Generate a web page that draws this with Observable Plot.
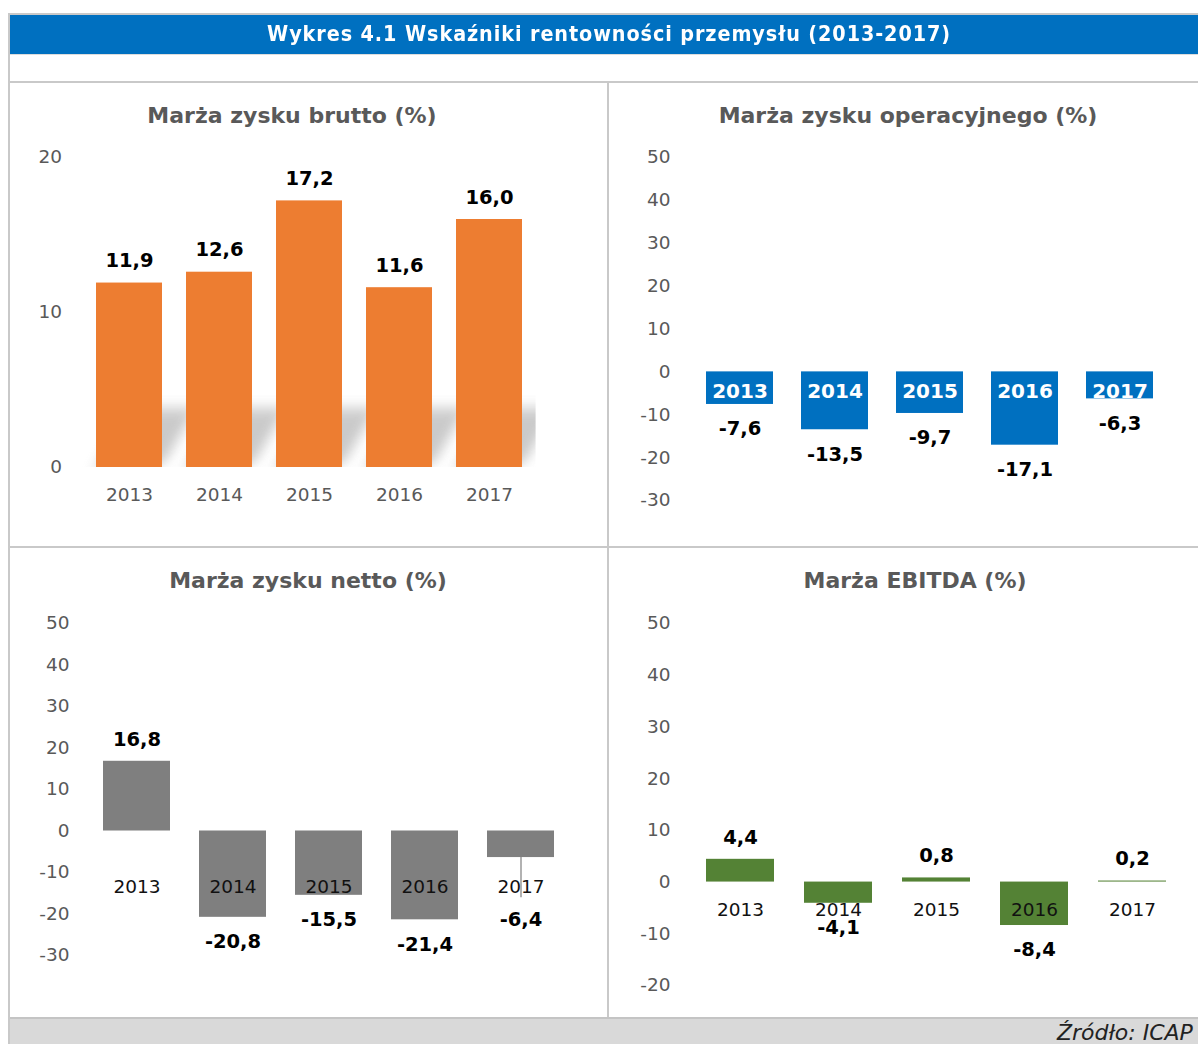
<!DOCTYPE html>
<html>
<head>
<meta charset="utf-8">
<script src="https://cdn.jsdelivr.net/npm/d3@7"></script>
<script src="https://cdn.jsdelivr.net/npm/@observablehq/plot@0.6"></script>
<style>
  html, body { margin: 0; padding: 0; background: #fff; }
  #root { position: relative; width: 1198px; height: 1044px; overflow: hidden; font-family: "DejaVu Sans", Verdana, sans-serif; }
  .abs { position: absolute; }
  .line { position: absolute; background: #c9c9c9; }
  .ptitle { position: absolute; font-weight: bold; font-size: 22px; color: #595959; text-align: center; white-space: nowrap; line-height: 24px; }
  svg.panel { position: absolute; overflow: visible; }
</style>
</head>
<body>
<div id="root">
  <div class="line" style="left:8px; top:13px; width:1190px; height:2px;"></div>
  <div class="abs" style="left:9px; top:15px; width:1189px; height:39px; background:#0070C0;"></div>
  <div id="mainTitle" class="abs" style="left:9px; top:15px; width:1200px; height:39px; line-height:38px; text-align:center; color:#fff; font-weight:bold; font-size:21px; letter-spacing:1px; white-space:nowrap; transform:scaleX(0.915); transform-origin:600px 50%;"></div>
  <div class="line" style="left:8px; top:54px; width:1190px; height:1px; background:#dcdcdc;"></div>
  <div class="line" style="left:8px; top:81px; width:1190px; height:2px;"></div>
  <div class="line" style="left:8px; top:546px; width:1190px; height:2px;"></div>
  <div class="line" style="left:607px; top:82px; width:2px; height:936px;"></div>
  <div class="line" style="left:8px; top:13px; width:2px; height:1031px;"></div>
  <div class="abs" style="left:10px; top:1017px; width:1188px; height:27px; background:#d9d9d9; border-top:2px solid #c4c4c4;"></div>
  <div id="source" class="abs" style="left:1057px; top:1020px; font-style:italic; font-size:22px; color:#222; white-space:nowrap; line-height:26px;"></div>
</div>
<script>
// ---- data ----
const mainTitle = "Wykres 4.1 Wskaźniki rentowności przemysłu (2013-2017)";
const sourceText = "Źródło: ICAP";
const years = ["2013", "2014", "2015", "2016", "2017"];
const panelTitles = ["Marża zysku brutto (%)", "Marża zysku operacyjnego (%)", "Marża zysku netto (%)", "Marża EBITDA (%)"];
const brutto = [11.9, 12.6, 17.2, 11.6, 16.0];
const operacyjna = [-7.6, -13.5, -9.7, -17.1, -6.3];
const netto = [16.8, -20.8, -15.5, -21.4, -6.4];
const ebitda = [4.4, -4.1, 0.8, -8.4, 0.2];
const ticksBrutto = [0, 10, 20];
const ticksOper = [-30, -20, -10, 0, 10, 20, 30, 40, 50];
const ticksNetto = [-30, -20, -10, 0, 10, 20, 30, 40, 50];
const ticksEbitda = [-20, -10, 0, 10, 20, 30, 40, 50];

document.getElementById("mainTitle").textContent = mainTitle;
document.getElementById("source").textContent = sourceText;

const FONT = '"DejaVu Sans", Verdana, sans-serif';
const fmt = v => d3.format(".1f")(v).replace(".", ",").replace("\u2212", "-");
let panelId = 0;

function makePanel(cfg) {
  panelId++;
  const data = years.map((y, i) => ({year: y, value: cfg.values[i]}));
  const marks = [];
  if (cfg.shadow) {
    marks.push(Plot.barY(data, {x: "year", y1: () => 0, y2: d => Math.min(d.value, cfg.shadow), fill: "#b4b4b4", clip: true}));
  }
  marks.push(Plot.barY(data, {x: "year", y: "value", fill: cfg.color}));
  marks.push(Plot.axisY({ticks: cfg.ticks, tickSize: 0, tickPadding: cfg.tickPadding,
    tickFormat: d => String(d), fontSize: 18.5, fill: "#595959", label: null}));
  if (cfg.yearMode === "axis") {
    marks.push(Plot.axisX({tickSize: 0, tickPadding: 20, fontSize: 18.5, fill: "#595959", label: null}));
  } else {
    marks.push(Plot.text(years, {x: d => d, y: () => 0, dy: cfg.yearDy, text: d => d,
      fill: cfg.yearColor, fontSize: cfg.yearBold ? 20 : 18.5, fontWeight: cfg.yearBold ? "bold" : "normal"}));
  }
  const floor = cfg.labelFloor;
  const pushed = data.filter(d => floor !== undefined && d.value < 0 && d.value > floor);
  if (pushed.length) {
    marks.push(Plot.ruleX(pushed, {x: "year", y1: "value", y2: () => floor - 0.6, stroke: "#7f7f7f", strokeWidth: 1.2}));
  }
  const pos = data.filter(d => d.value >= 0);
  const neg = data.filter(d => d.value < 0);
  marks.push(Plot.text(pos, {x: "year", y: "value", dy: -22, text: d => fmt(d.value),
    fontWeight: "bold", fontSize: 19.5, fill: "#000"}));
  marks.push(Plot.text(neg, {x: "year", y: d => (floor !== undefined ? Math.min(d.value, floor) : d.value), dy: 24.5,
    text: d => fmt(d.value), fontWeight: "bold", fontSize: 19.5, fill: "#000"}));

  const svg = Plot.plot({
    width: cfg.width, height: cfg.height,
    marginLeft: cfg.ml, marginRight: cfg.mr, marginTop: cfg.mt, marginBottom: cfg.mb,
    x: {domain: years, paddingInner: cfg.pad, paddingOuter: cfg.pad / 2, axis: null},
    y: {domain: cfg.domain, axis: null},
    style: {fontFamily: FONT, background: "transparent", overflow: "visible"},
    marks
  });
  svg.classList.add("panel");
  svg.style.left = cfg.left + "px";
  svg.style.top = cfg.top + "px";

  if (cfg.shadow) {
    const ns = "http://www.w3.org/2000/svg";
    const defs = document.createElementNS(ns, "defs");
    const filter = document.createElementNS(ns, "filter");
    const fid = "shadowBlur" + panelId;
    filter.setAttribute("id", fid);
    filter.setAttribute("x", "-50%"); filter.setAttribute("y", "-50%");
    filter.setAttribute("width", "200%"); filter.setAttribute("height", "200%");
    const blur = document.createElementNS(ns, "feGaussianBlur");
    blur.setAttribute("stdDeviation", "7");
    filter.appendChild(blur);
    defs.appendChild(filter);
    svg.insertBefore(defs, svg.firstChild);
    const g = svg.querySelector('g[aria-label="bar"]');
    if (g) {
      const y0 = svg.scale("y").apply(0);
      const inner = document.createElementNS(ns, "g");
      while (g.firstChild) inner.appendChild(g.firstChild);
      inner.setAttribute("transform", `translate(0,${y0}) skewX(-30) translate(0,${-y0})`);
      inner.setAttribute("filter", `url(#${fid})`);
      inner.setAttribute("opacity", "0.7");
      g.appendChild(inner);
    }
  }
  document.getElementById("root").appendChild(svg);

  const t = document.createElement("div");
  t.className = "ptitle";
  t.textContent = cfg.title;
  t.style.left = (cfg.titleX - 300) + "px";
  t.style.width = "600px";
  t.style.top = (cfg.titleY - 12) + "px";
  document.getElementById("root").appendChild(t);
}

makePanel({values: brutto, color: "#ED7D31", ticks: ticksBrutto, domain: [0, 20], tickPadding: 20,
  left: 8, top: 82, width: 600, height: 465, ml: 73.6, mr: 72.4, mt: 75, mb: 80, pad: 0.27, shadow: 3.8,
  yearMode: "axis", title: panelTitles[0], titleX: 292, titleY: 116});

makePanel({values: operacyjna, color: "#0070C0", ticks: ticksOper, domain: [-30, 50], tickPadding: 20,
  left: 608, top: 82, width: 590, height: 465, ml: 82, mr: 30, mt: 75, mb: 47, pad: 0.3,
  yearMode: "text", yearDy: 20, yearColor: "#fff", yearBold: true, title: panelTitles[1], titleX: 908, titleY: 116});

makePanel({values: netto, color: "#7F7F7F", ticks: ticksNetto, domain: [-30, 50], tickPadding: 20,
  left: 8, top: 547, width: 600, height: 471, ml: 81, mr: 39, mt: 76, mb: 63, pad: 0.3,
  yearMode: "text", yearDy: 56, yearColor: "#111", yearBold: false, labelFloor: -15.5,
  title: panelTitles[2], titleX: 308, titleY: 581});

makePanel({values: ebitda, color: "#548235", ticks: ticksEbitda, domain: [-20, 50], tickPadding: 20,
  left: 608, top: 547, width: 590, height: 471, ml: 82, mr: 17, mt: 76, mb: 33, pad: 0.31,
  yearMode: "text", yearDy: 28, yearColor: "#111", yearBold: false, title: panelTitles[3], titleX: 915, titleY: 581});
</script>
</body>
</html>
